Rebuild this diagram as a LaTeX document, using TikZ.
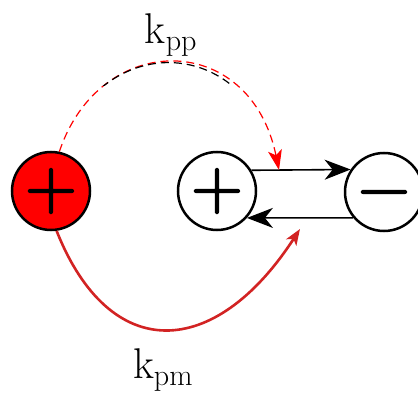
\RequirePackage{fix-cm}
\documentclass[tikz,border=0pt]{standalone}
\usepackage{fontspec}
\usetikzlibrary{arrows.meta}
\newfontfamily\signfont[FakeBold=2.5]{Latin Modern Roman}
\definecolor{ratered}{RGB}{210,35,35}
\begin{document}
\begin{tikzpicture}[x=1pt, y=-1pt,
  ion/.style={circle, draw, line width=2.5pt, minimum size=78pt, inner sep=0pt, font=\signfont\fontsize{71}{74}\selectfont},
  rate/.style={font=\fontsize{43}{50}\selectfont},
  flux/.style={line width=1.6pt, -{Stealth[length=26pt, width=20pt, inset=8pt]}}]
\useasboundingbox (0,0) rectangle (418,396);
\node[ion, fill=red] (P1) at (51,191) {+};
\node[ion] (P2) at (217,191) {+};
\node[ion] (M) at (384,192) {\raisebox{-0.25em}[0pt][0pt]{−}};
\coordinate (ppin) at (279,170);
\coordinate (pmin) at (300,229);

% charge transfer between the pair
\draw[flux] (P2.31) -- (M.146);
\draw[flux] (M.-140) -- (P2.-42);

% rates
\draw[red, line width=1.2pt, dash pattern=on 8pt off 5pt, -{Stealth[length=20pt, width=14pt, inset=5pt]}]
  (P1.78) .. controls (100,30) and (250,30) .. (ppin);
\begin{scope}
\clip (0,0) rectangle (418,86);
\draw[black, line width=1.2pt, dash pattern=on 8pt off 5pt]
  (P1.78) .. controls (100,30) and (250,30) .. (ppin);
\end{scope}
\draw[ratered, line width=2.6pt, -{Stealth[length=16pt, width=12pt, inset=4pt]}]
  (P1.-82) .. controls (110,365) and (215,360) .. (pmin);

\node[rate] (kpp) at (171,35) {$\mathrm{k}_{\mathrm{pp}}$};
\node[rate] (kpm) at (163,370) {$\mathrm{k}_{\mathrm{pm}}$};
\end{tikzpicture}
\end{document}
